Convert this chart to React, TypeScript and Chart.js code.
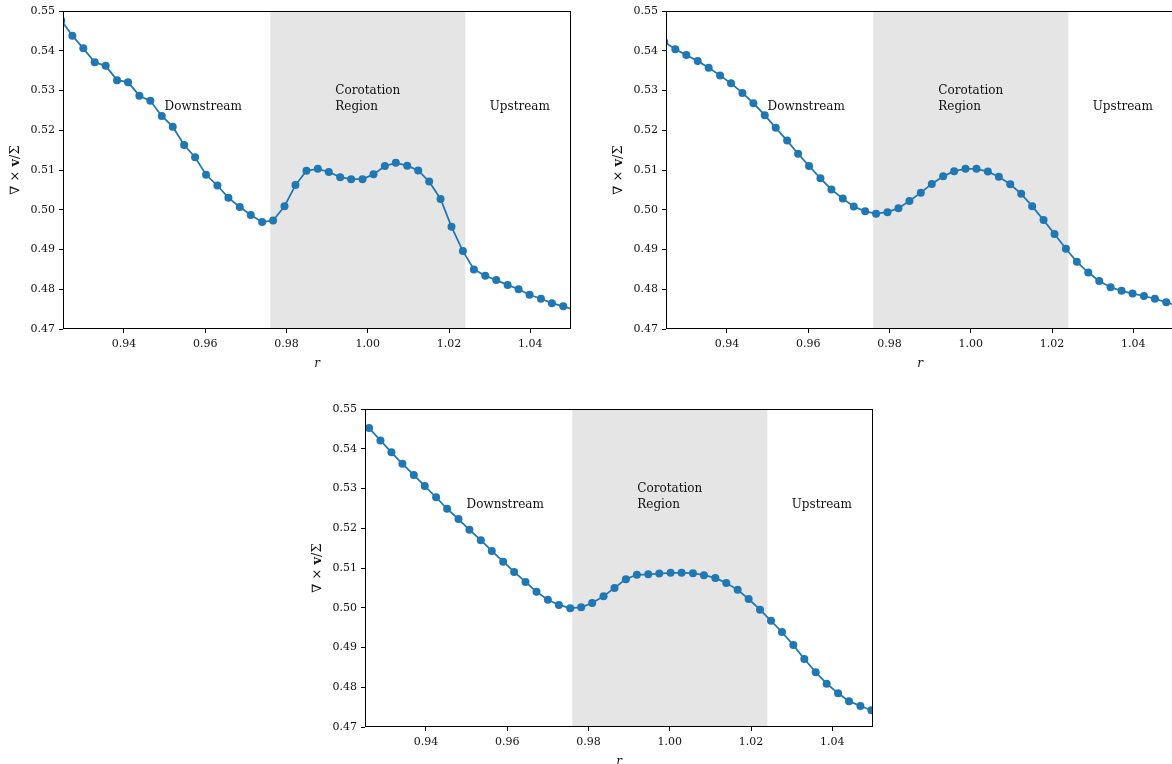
import React, { useEffect, useRef } from 'react';
import { Chart, registerables } from 'chart.js';

Chart.register(...registerables);

// ---- data ----
const R_TOP = [
  0.9246, 0.9273, 0.9300, 0.9328, 0.9355, 0.9383, 0.9410, 0.9438, 0.9465, 0.9493,
  0.9520, 0.9548, 0.9575, 0.9602, 0.9630, 0.9657, 0.9685, 0.9712, 0.9740, 0.9767,
  0.9795, 0.9822, 0.9849, 0.9877, 0.9904, 0.9932, 0.9959, 0.9987, 1.0014, 1.0042,
  1.0069, 1.0097, 1.0124, 1.0151, 1.0179, 1.0206, 1.0234, 1.0261, 1.0289, 1.0316,
  1.0344, 1.0371, 1.0398, 1.0426, 1.0453, 1.0481, 1.0508,
];
const R_BOTTOM = [
  0.9260, 0.9288, 0.9315, 0.9342, 0.9370, 0.9397, 0.9425, 0.9452, 0.9480, 0.9507,
  0.9535, 0.9562, 0.9590, 0.9617, 0.9645, 0.9672, 0.9700, 0.9727, 0.9755, 0.9782,
  0.9809, 0.9837, 0.9864, 0.9892, 0.9919, 0.9947, 0.9974, 1.0002, 1.0029, 1.0057,
  1.0084, 1.0112, 1.0139, 1.0167, 1.0194, 1.0222, 1.0249, 1.0276, 1.0304, 1.0331,
  1.0359, 1.0386, 1.0414, 1.0441, 1.0469, 1.0496,
];
const CURL_A = [
  0.5476, 0.5438, 0.5406, 0.5371, 0.5362, 0.5326, 0.5321, 0.5287, 0.5274, 0.5236,
  0.5209, 0.5163, 0.5132, 0.5088, 0.5061, 0.5030, 0.5007, 0.4987, 0.4969, 0.4973,
  0.5009, 0.5062, 0.5098, 0.5103, 0.5095, 0.5082, 0.5077, 0.5077, 0.5089, 0.5110,
  0.5118, 0.5111, 0.5099, 0.5071, 0.5027, 0.4957, 0.4896, 0.4850, 0.4834, 0.4823,
  0.4811, 0.4800, 0.4786, 0.4776, 0.4765, 0.4757, 0.4748,
];
const CURL_B = [
  0.5422, 0.5404, 0.5389, 0.5374, 0.5357, 0.5338, 0.5318, 0.5294, 0.5268, 0.5238,
  0.5206, 0.5174, 0.5141, 0.5110, 0.5079, 0.5051, 0.5028, 0.5008, 0.4996, 0.4990,
  0.4994, 0.5004, 0.5022, 0.5043, 0.5065, 0.5084, 0.5097, 0.5103, 0.5103, 0.5096,
  0.5083, 0.5064, 0.5040, 0.5009, 0.4974, 0.4939, 0.4902, 0.4869, 0.4842, 0.4821,
  0.4805, 0.4796, 0.4789, 0.4783, 0.4776, 0.4767, 0.4759,
];
const CURL_C = [
  0.5452, 0.5421, 0.5391, 0.5362, 0.5334, 0.5306, 0.5278, 0.5249, 0.5223, 0.5196,
  0.5170, 0.5143, 0.5116, 0.5090, 0.5065, 0.5040, 0.5020, 0.5007, 0.4999, 0.5001,
  0.5012, 0.5029, 0.5050, 0.5072, 0.5083, 0.5084, 0.5086, 0.5088, 0.5088, 0.5087,
  0.5082, 0.5075, 0.5062, 0.5045, 0.5022, 0.4995, 0.4967, 0.4939, 0.4906, 0.4871,
  0.4838, 0.4809, 0.4785, 0.4765, 0.4753, 0.4742,
];
const X_TICKS = [0.94, 0.96, 0.98, 1.0, 1.02, 1.04];
const Y_TICKS = [0.47, 0.48, 0.49, 0.5, 0.51, 0.52, 0.53, 0.54, 0.55];
const X_MIN = 0.925;
const X_MAX = 1.05;
const Y_MIN = 0.47;
const Y_MAX = 0.55;
const BAND_START = 0.976;
const BAND_END = 1.024;
const LABEL_DOWNSTREAM = ['Downstream'];
const LABEL_COROTATION = ['Corotation', 'Region'];
const LABEL_UPSTREAM = ['Upstream'];
const LABEL_R = [0.95, 0.992, 1.03];
const LABEL_VALUE = 0.525;

// ---- layout ----
const AXIS_LEFT = 63;
const AXIS_TOP = 11;
const AREA_W = 508;
const AREA_H = 318;
const PAD_RIGHT = 12;
const AXIS_BOTTOM = 50;
const CANVAS_W = AXIS_LEFT + AREA_W + PAD_RIGHT;
const CANVAS_H = AXIS_TOP + AREA_H + AXIS_BOTTOM;

const BLUE = '#1f77b4';
const INK = '#111111';
const SERIF = '"DejaVu Serif", serif';

const decorPlugin = {
  id: 'decor',
  beforeDatasetsDraw(chart: any) {
    const { ctx, chartArea: a, scales } = chart;
    const x0 = scales.x.getPixelForValue(BAND_START);
    const x1 = scales.x.getPixelForValue(BAND_END);
    ctx.save();
    ctx.fillStyle = '#e5e5e5';
    ctx.fillRect(x0, a.top, x1 - x0, a.bottom - a.top);
    ctx.restore();
  },
  afterDatasetsDraw(chart: any) {
    const { ctx, scales } = chart;
    const groups = [LABEL_DOWNSTREAM, LABEL_COROTATION, LABEL_UPSTREAM];
    ctx.save();
    ctx.font = `12px ${SERIF}`;
    ctx.fillStyle = INK;
    ctx.textAlign = 'left';
    ctx.textBaseline = 'alphabetic';
    const yb = scales.y.getPixelForValue(LABEL_VALUE);
    groups.forEach((lines, gi) => {
      const xp = scales.x.getPixelForValue(LABEL_R[gi]);
      lines.forEach((t, i) => {
        ctx.fillText(t, xp, yb - 16 * (lines.length - 1 - i));
      });
    });
    ctx.restore();
  },
  afterDraw(chart: any) {
    const { ctx, chartArea: a } = chart;
    ctx.save();
    ctx.strokeStyle = '#000';
    ctx.lineWidth = 1;
    ctx.strokeRect(a.left + 0.5, a.top + 0.5, a.right - a.left - 1, a.bottom - a.top - 1);
    // x label
    ctx.fillStyle = INK;
    ctx.font = `italic 12px ${SERIF}`;
    ctx.textAlign = 'center';
    ctx.textBaseline = 'alphabetic';
    ctx.fillText('r', (a.left + a.right) / 2, a.bottom + 38);
    // y label
    ctx.translate(a.left - 47, (a.top + a.bottom) / 2);
    ctx.rotate(-Math.PI / 2);
    const parts = [
      { t: '\u2207 \u00d7 ', f: `13px ${SERIF}` },
      { t: 'v', f: `bold 13px ${SERIF}` },
      { t: '/\u03a3', f: `13px ${SERIF}` },
    ];
    let total = 0;
    parts.forEach((p) => {
      ctx.font = p.f;
      total += ctx.measureText(p.t).width;
    });
    let cx = -total / 2;
    ctx.textAlign = 'left';
    ctx.textBaseline = 'middle';
    parts.forEach((p) => {
      ctx.font = p.f;
      ctx.fillText(p.t, cx, 0);
      cx += ctx.measureText(p.t).width;
    });
    ctx.restore();
  },
};

function Panel({ left, top, rs, vs }: { left: number; top: number; rs: number[]; vs: number[] }) {
  const ref = useRef<HTMLCanvasElement | null>(null);
  useEffect(() => {
    if (!ref.current) return;
    const chart = new Chart(ref.current, {
      type: 'line',
      data: {
        datasets: [
          {
            data: rs.map((r, i) => ({ x: r, y: vs[i] })),
            borderColor: BLUE,
            backgroundColor: BLUE,
            borderWidth: 1.75,
            pointRadius: 4,
            pointBorderWidth: 0,
            pointBackgroundColor: BLUE,
            tension: 0,
            fill: false,
            clip: 0,
          } as any,
        ],
      },
      options: {
        animation: false,
        responsive: false,
        devicePixelRatio: 1,
        events: [],
        layout: { padding: { left: 0, top: AXIS_TOP, right: PAD_RIGHT, bottom: 0 } },
        plugins: { legend: { display: false }, tooltip: { enabled: false } },
        scales: {
          x: {
            type: 'linear',
            min: X_MIN,
            max: X_MAX,
            afterBuildTicks: (s: any) => {
              s.ticks = X_TICKS.map((v) => ({ value: v }));
            },
            afterFit: (s: any) => {
              s.height = AXIS_BOTTOM;
            },
            grid: { drawOnChartArea: false, drawTicks: true, tickLength: 4, color: '#000', lineWidth: 1 },
            border: { display: false },
            ticks: {
              autoSkip: false,
              maxRotation: 0,
              padding: 5,
              color: INK,
              font: { family: SERIF, size: 11 },
              callback: (v: any) => Number(v).toFixed(2),
            },
          },
          y: {
            type: 'linear',
            min: Y_MIN,
            max: Y_MAX,
            afterBuildTicks: (s: any) => {
              s.ticks = Y_TICKS.map((v) => ({ value: v }));
            },
            afterFit: (s: any) => {
              s.width = AXIS_LEFT;
            },
            grid: { drawOnChartArea: false, drawTicks: true, tickLength: 4, color: '#000', lineWidth: 1 },
            border: { display: false },
            ticks: {
              autoSkip: false,
              padding: 4,
              color: INK,
              font: { family: SERIF, size: 11 },
              callback: (v: any) => Number(v).toFixed(2),
            },
          },
        },
      } as any,
      plugins: [decorPlugin],
    });
    return () => chart.destroy();
  }, [rs, vs]);
  return (
    <canvas
      ref={ref}
      width={CANVAS_W}
      height={CANVAS_H}
      style={{
        position: 'absolute',
        left: left - AXIS_LEFT,
        top: top - AXIS_TOP,
        width: CANVAS_W,
        height: CANVAS_H,
      }}
    />
  );
}

export default function App() {
  return (
    <div
      style={{
        position: 'fixed',
        left: 0,
        top: 0,
        width: 1172,
        height: 764,
        overflow: 'hidden',
        background: '#ffffff',
      }}
    >
      <Panel left={63} top={11} rs={R_TOP} vs={CURL_A} />
      <Panel left={666} top={11} rs={R_TOP} vs={CURL_B} />
      <Panel left={365} top={409} rs={R_BOTTOM} vs={CURL_C} />
    </div>
  );
}
